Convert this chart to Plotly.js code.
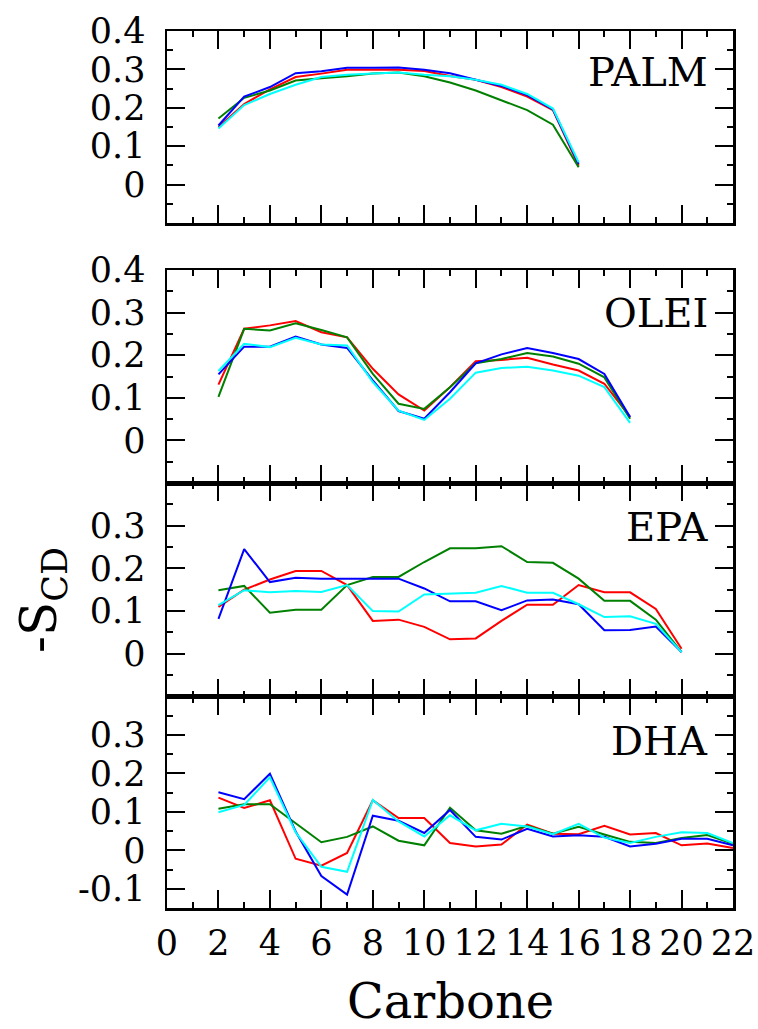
<!DOCTYPE html>
<html>
<head>
<meta charset="utf-8">
<script src="https://cdn.plot.ly/plotly-3.0.1.min.js"></script>
<style>html,body{margin:0;padding:0;background:#fff;}#chart{width:758px;height:1029px;}</style>
</head>
<body>
<div id="chart"></div>
<script>
// ---- Data ----
const panelNames = ["PALM", "OLEI", "EPA", "DHA"];
const xTickVals = [0, 2, 4, 6, 8, 10, 12, 14, 16, 18, 20, 22];
const xTickText = ["0", "2", "4", "6", "8", "10", "12", "14", "16", "18", "20", "22"];

const carbonPalm = [2, 3, 4, 5, 6, 7, 8, 9, 10, 11, 12, 13, 14, 15, 16];
const palmRed   = [0.150, 0.210, 0.248, 0.280, 0.289, 0.299, 0.299, 0.299, 0.296, 0.283, 0.273, 0.254, 0.229, 0.194, 0.049];
const palmGreen = [0.172, 0.226, 0.245, 0.271, 0.277, 0.282, 0.289, 0.292, 0.282, 0.266, 0.245, 0.220, 0.194, 0.156, 0.045];
const palmBlue  = [0.154, 0.229, 0.254, 0.290, 0.295, 0.304, 0.304, 0.305, 0.299, 0.290, 0.273, 0.257, 0.233, 0.196, 0.054];
const palmCyan  = [0.146, 0.207, 0.236, 0.260, 0.280, 0.286, 0.289, 0.292, 0.286, 0.282, 0.273, 0.260, 0.236, 0.198, 0.058];

const carbonOlei = [2, 3, 4, 5, 6, 7, 8, 9, 10, 11, 12, 13, 14, 15, 16, 17, 18];
const oleiRed   = [0.131, 0.262, 0.270, 0.280, 0.254, 0.242, 0.168, 0.108, 0.070, 0.125, 0.186, 0.189, 0.194, 0.178, 0.164, 0.133, 0.055];
const oleiGreen = [0.102, 0.262, 0.258, 0.275, 0.259, 0.242, 0.156, 0.086, 0.074, 0.125, 0.181, 0.191, 0.205, 0.197, 0.180, 0.148, 0.051];
const oleiBlue  = [0.155, 0.220, 0.220, 0.244, 0.225, 0.217, 0.141, 0.069, 0.051, 0.113, 0.181, 0.202, 0.217, 0.205, 0.191, 0.156, 0.055];
const oleiCyan  = [0.163, 0.227, 0.219, 0.241, 0.225, 0.223, 0.137, 0.070, 0.048, 0.098, 0.159, 0.170, 0.173, 0.164, 0.152, 0.125, 0.041];

const carbonEpa = [2, 3, 4, 5, 6, 7, 8, 9, 10, 11, 12, 13, 14, 15, 16, 17, 18, 19, 20];
const epaRed   = [0.110, 0.150, 0.174, 0.194, 0.194, 0.161, 0.077, 0.080, 0.063, 0.034, 0.036, 0.077, 0.115, 0.115, 0.161, 0.144, 0.144, 0.105, 0.012];
const epaGreen = [0.149, 0.159, 0.096, 0.103, 0.103, 0.161, 0.180, 0.180, 0.215, 0.247, 0.247, 0.252, 0.215, 0.213, 0.176, 0.124, 0.124, 0.080, 0.004];
const epaBlue  = [0.082, 0.245, 0.168, 0.178, 0.176, 0.176, 0.176, 0.176, 0.153, 0.123, 0.123, 0.102, 0.125, 0.127, 0.116, 0.055, 0.056, 0.064, 0.004];
const epaCyan  = [0.114, 0.149, 0.144, 0.147, 0.145, 0.161, 0.100, 0.099, 0.139, 0.141, 0.143, 0.159, 0.143, 0.143, 0.116, 0.086, 0.088, 0.070, 0.004];

const carbonDha = [2, 3, 4, 5, 6, 7, 8, 9, 10, 11, 12, 13, 14, 15, 16, 17, 18, 19, 20, 21, 22];
const dhaRed   = [0.137, 0.110, 0.130, -0.022, -0.040, -0.007, 0.130, 0.084, 0.084, 0.019, 0.010, 0.015, 0.067, 0.043, 0.042, 0.064, 0.041, 0.045, 0.013, 0.018, 0.006];
const dhaGreen = [0.108, 0.120, 0.120, 0.071, 0.021, 0.035, 0.062, 0.025, 0.013, 0.111, 0.052, 0.043, 0.064, 0.043, 0.061, 0.041, 0.022, 0.019, 0.032, 0.040, 0.017];
const dhaBlue  = [0.151, 0.133, 0.199, 0.049, -0.067, -0.115, 0.090, 0.077, 0.045, 0.105, 0.035, 0.028, 0.056, 0.036, 0.039, 0.035, 0.010, 0.017, 0.030, 0.030, 0.013];
const dhaCyan  = [0.099, 0.118, 0.190, 0.047, -0.043, -0.056, 0.131, 0.075, 0.036, 0.091, 0.052, 0.069, 0.062, 0.042, 0.069, 0.033, 0.019, 0.035, 0.047, 0.045, 0.019];

const yTickValsPalm = [0, 0.1, 0.2, 0.3, 0.4];
const yTickTextPalm = ["0", "0.1", "0.2", "0.3", "0.4"];
const yTickValsOlei = [0, 0.1, 0.2, 0.3, 0.4];
const yTickTextOlei = ["0", "0.1", "0.2", "0.3", "0.4"];
const yTickValsEpa  = [0, 0.1, 0.2, 0.3];
const yTickTextEpa  = ["0", "0.1", "0.2", "0.3"];
const yTickValsDha  = [-0.1, 0, 0.1, 0.2, 0.3];
const yTickTextDha  = ["-0.1", "0", "0.1", "0.2", "0.3"];

const seriesColors = ["#ff0000", "#008000", "#0000ff", "#00ffff"];

// ---- Build traces ----
const panels = [
  {x: carbonPalm, ys: [palmRed, palmGreen, palmBlue, palmCyan], xa: "x", ya: "y"},
  {x: carbonOlei, ys: [oleiRed, oleiGreen, oleiBlue, oleiCyan], xa: "x2", ya: "y2"},
  {x: carbonEpa,  ys: [epaRed, epaGreen, epaBlue, epaCyan],     xa: "x3", ya: "y3"},
  {x: carbonDha,  ys: [dhaRed, dhaGreen, dhaBlue, dhaCyan],     xa: "x4", ya: "y4"}
];
const traces = [];
panels.forEach(p => {
  p.ys.forEach((ys, i) => {
    traces.push({
      x: p.x, y: ys, xaxis: p.xa, yaxis: p.ya,
      type: "scatter", mode: "lines",
      line: {color: seriesColors[i], width: 2},
      hoverinfo: "skip"
    });
  });
});

// ---- Layout ----
const FONT = "DejaVu Serif";
const W = 758, H = 1029;
const mL = 167, mR = 25, mT = 31, mB = 121;
const plotH = H - mT - mB;
const py = v => (H - mB - v) / plotH;   // pixel y -> paper
const px = v => (v - mL) / (W - mL - mR);

function xAxis(anchor, showLabels) {
  return {
    anchor: anchor, range: [0, 22], tickmode: "array",
    tickvals: xTickVals, ticktext: xTickText,
    ticks: "inside", ticklen: 18, tickwidth: 2, tickcolor: "#000",
    minor: {dtick: 1, tick0: 0, ticks: "inside", ticklen: 6, tickwidth: 2, tickcolor: "#000"},
    showline: true, linewidth: 2.5, linecolor: "#000", mirror: "ticks",
    showgrid: false, zeroline: false, showticklabels: showLabels,
    tickfont: {family: FONT, size: 35, color: "#000"},
    ticklabelstandoff: 2,
    fixedrange: true
  };
}
function yAxis(anchor, range, tickvals, ticktext, domain) {
  return {
    anchor: anchor, range: range, domain: domain, tickmode: "array",
    tickvals: tickvals, ticktext: ticktext,
    ticks: "inside", ticklen: 18, tickwidth: 2, tickcolor: "#000",
    minor: {dtick: 0.05, tick0: 0, ticks: "inside", ticklen: 6, tickwidth: 2, tickcolor: "#000"},
    showline: true, linewidth: 2.5, linecolor: "#000", mirror: "ticks",
    showgrid: false, zeroline: false,
    tickfont: {family: FONT, size: 35, color: "#000"},
    ticklabelstandoff: 12,
    fixedrange: true
  };
}

const labelY = [72, 313, 527, 741];
const annotations = panelNames.map((name, i) => ({
  text: name, xref: "paper", yref: "paper",
  x: px(710), y: py(labelY[i]), xanchor: "right", yanchor: "middle",
  showarrow: false, font: {family: FONT, size: 40, color: "#000"}
}));
annotations.push({
  text: "-S<sub>CD</sub>", xref: "paper", yref: "paper",
  x: px(42), y: py(600), xanchor: "center", yanchor: "middle",
  textangle: -90, showarrow: false, font: {family: FONT, size: 50, color: "#000"}
});
annotations.push({
  text: "Carbone", xref: "paper", yref: "paper",
  x: 0.5, y: py(1001), xanchor: "center", yanchor: "middle",
  showarrow: false, font: {family: FONT, size: 48, color: "#000"}
});

const layout = {
  width: W, height: H, autosize: false,
  font: {family: FONT, color: "#000"},
  margin: {l: mL, r: mR, t: mT, b: mB, pad: 0},
  paper_bgcolor: "#fff", plot_bgcolor: "#fff",
  showlegend: false,
  xaxis:  xAxis("y", false),
  xaxis2: xAxis("y2", false),
  xaxis3: xAxis("y3", false),
  xaxis4: xAxis("y4", true),
  yaxis:  yAxis("x",  [-0.1, 0.4],  yTickValsPalm, yTickTextPalm, [py(223), 1]),
  yaxis2: yAxis("x2", [-0.1, 0.4],  yTickValsOlei, yTickTextOlei, [py(483), py(270)]),
  yaxis3: yAxis("x3", [-0.1, 0.4],  yTickValsEpa,  yTickTextEpa,  [py(696.5), py(483)]),
  yaxis4: yAxis("x4", [-0.15, 0.4], yTickValsDha,  yTickTextDha,  [0, py(696.5)]),
  annotations: annotations
};

Plotly.newPlot("chart", traces, layout, {displayModeBar: false, staticPlot: true});
</script>
</body>
</html>
